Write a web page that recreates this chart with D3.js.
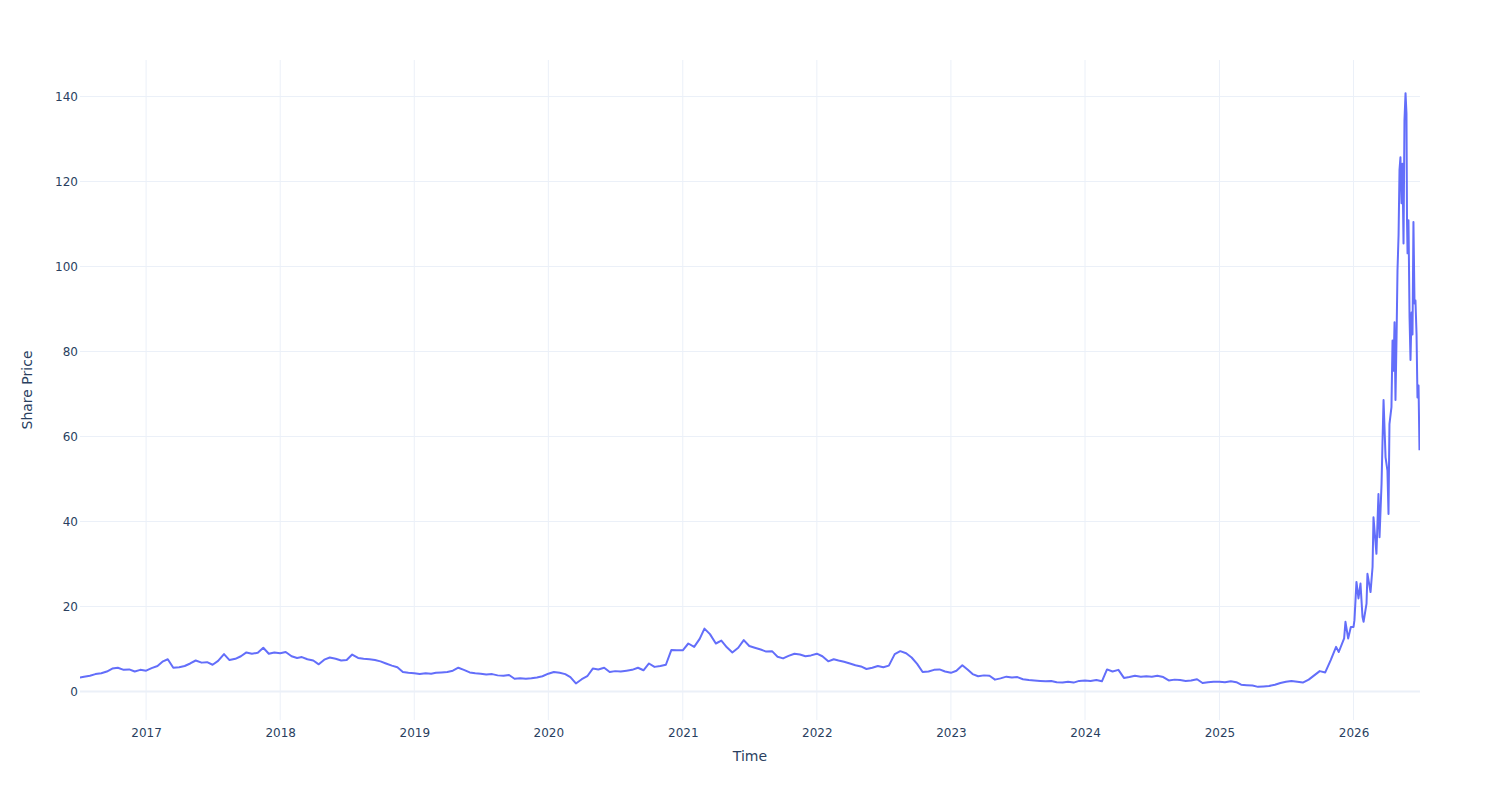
<!DOCTYPE html>
<html>
<head>
<meta charset="utf-8">
<script src="https://cdn.jsdelivr.net/npm/d3@7"></script>
<style>
  body { margin: 0; background: #fff; }
  svg text { font-family: "DejaVu Sans", verdana, arial, sans-serif; fill: #2a3f5f; }
</style>
</head>
<body>
<script>
// share price read twice a month (1st and 16th), one array per year
var price2016 = [3.2, 3.5, 3.7, 4.1, 4.3, 4.7, 5.4, 5.6, 5.1, 5.2, 4.7, 5.1]; // from July
var price2017 = [4.9, 5.5, 6.0, 7.1, 7.6, 5.6, 5.7, 6.0, 6.6, 7.3, 6.8, 6.9,
                 6.3, 7.2, 8.8, 7.4, 7.7, 8.3, 9.2, 8.9, 9.1, 10.3, 8.9, 9.2];
var price2018 = [9.0, 9.3, 8.3, 7.9, 8.1, 7.6, 7.3, 6.4, 7.5, 8.0, 7.7, 7.3,
                 7.4, 8.7, 7.9, 7.7, 7.6, 7.4, 7.1, 6.6, 6.1, 5.7, 4.6, 4.4];
var price2019 = [4.3, 4.1, 4.3, 4.2, 4.4, 4.5, 4.6, 4.9, 5.6, 5.1, 4.5, 4.3,
                 4.2, 4.0, 4.1, 3.8, 3.7, 3.9, 3.0, 3.1, 3.0, 3.1, 3.3, 3.6];
var price2020 = [4.2, 4.6, 4.4, 4.1, 3.4, 1.9, 2.9, 3.6, 5.4, 5.2, 5.6, 4.6,
                 4.8, 4.7, 4.9, 5.1, 5.6, 5.0, 6.6, 5.8, 6.0, 6.3, 9.8, 9.7];
var price2021 = [9.7, 11.3, 10.5, 12.4, 14.8, 13.5, 11.3, 12.0, 10.4, 9.2, 10.3, 12.1,
                 10.7, 10.3, 9.9, 9.4, 9.5, 8.2, 7.8, 8.4, 8.9, 8.7, 8.3, 8.5];
var price2022 = [8.9, 8.3, 7.1, 7.6, 7.3, 7.0, 6.6, 6.2, 5.9, 5.3, 5.6, 6.0,
                 5.7, 6.1, 8.8, 9.5, 9.0, 8.0, 6.5, 4.6, 4.7, 5.1, 5.2, 4.7];
var price2023 = [4.4, 4.9, 6.2, 5.1, 4.1, 3.6, 3.8, 3.7, 2.8, 3.1, 3.5, 3.3,
                 3.4, 2.9, 2.7, 2.6, 2.5, 2.4, 2.5, 2.2, 2.1, 2.3, 2.1, 2.5];
var price2024 = [2.6, 2.5, 2.7, 2.4, 5.2, 4.7, 5.1, 3.2, 3.4, 3.7, 3.5, 3.6,
                 3.5, 3.7, 3.4, 2.6, 2.8, 2.7, 2.5, 2.6, 2.9, 2.0, 2.2, 2.3];
var price2025 = [2.3, 2.2, 2.4, 2.2, 1.6, 1.5, 1.4, 1.1, 1.2, 1.3, 1.6, 2.0,
                 2.3, 2.5, 2.3, 2.1, 2.8, 3.8, 4.8, 4.5]; // to mid-October

// the rally from late 2025, read at finer time steps (decimal years)
var rallyYears = [
  2025.83, 2025.87, 2025.89, 2025.93, 2025.94, 2025.96, 2025.98, 2026.000, 2026.007, 2026.022, 2026.037,
  2026.052, 2026.067, 2026.075, 2026.097, 2026.104, 2026.127, 2026.142, 2026.149, 2026.171, 2026.186,
  2026.194, 2026.209, 2026.216, 2026.224, 2026.239, 2026.253, 2026.261, 2026.268, 2026.283, 2026.291,
  2026.298, 2026.306, 2026.313, 2026.321, 2026.328, 2026.336, 2026.343, 2026.350, 2026.358, 2026.365,
  2026.373, 2026.380, 2026.388, 2026.395, 2026.399, 2026.403, 2026.410, 2026.418, 2026.425, 2026.433,
  2026.440, 2026.447, 2026.455, 2026.462, 2026.470, 2026.477, 2026.485, 2026.492
];
var rallyPrices = [
  7.4, 10.5, 9.3, 12.5, 16.4, 12.5, 15.2, 15.2, 16.8, 25.8, 21.9,
  25.4, 17.6, 16.4, 20.7, 27.7, 23.4, 29.3, 41.0, 32.4, 46.5,
  36.3, 48.8, 58.4, 68.6, 55.1, 52.0, 41.8, 62.9, 66.9, 82.6,
  75.5, 86.9, 68.6, 83.4, 99.0, 107.4, 122.7, 125.7, 114.9, 124.2,
  105.4, 134.4, 140.8, 136.0, 110.9, 103.1, 110.9, 88.0, 78.0, 89.2,
  84.0, 110.5, 91.3, 92.0, 84.2, 69.2, 72.0, 56.8
];

var yTicks = [0, 20, 40, 60, 80, 100, 120, 140];
var xTickYears = [2017, 2018, 2019, 2020, 2021, 2022, 2023, 2024, 2025, 2026];
var xTitle = "Time", yTitle = "Share Price";

// decimal year -> Date
function toDate(y) {
  var yr = Math.floor(y);
  var start = new Date(yr, 0, 1), end = new Date(yr + 1, 0, 1);
  return new Date(start.getTime() + (y - yr) * (end - start));
}

//twice-monthly readings -> {date, price}
function halfMonthly(year, firstSlot, prices) {
  return prices.map(function(p, i) {
    var k = firstSlot + i;
    return {date: new Date(year, Math.floor(k / 2), k % 2 ? 16 : 1), price: p};
  });
}

var data = [].concat(
  halfMonthly(2016, 12, price2016),
  halfMonthly(2017, 0, price2017),
  halfMonthly(2018, 0, price2018),
  halfMonthly(2019, 0, price2019),
  halfMonthly(2020, 0, price2020),
  halfMonthly(2021, 0, price2021),
  halfMonthly(2022, 0, price2022),
  halfMonthly(2023, 0, price2023),
  halfMonthly(2024, 0, price2024),
  halfMonthly(2025, 0, price2025),
  rallyYears.map(function(t, i) { return {date: toDate(t), price: rallyPrices[i]}; })
);

var width = 1500, height = 800;
var margin = {top: 60, right: 80, bottom: 80, left: 80};

var svg = d3.select("body").append("svg")
  .attr("width", width)
  .attr("height", height);

var x = d3.scaleTime()
  .domain([new Date(2016, 6, 5), new Date(2026, 6, 1)])
  .range([margin.left, width - margin.right]);

var y = d3.scaleLinear()
  .domain([-6.7, 148.6])
  .range([height - margin.bottom, margin.top]);

//grid lines
svg.append("g").selectAll("line")
  .data(xTickYears)
  .enter().append("line")
  .attr("x1", function(d) { return x(new Date(d, 0, 1)); })
  .attr("x2", function(d) { return x(new Date(d, 0, 1)); })
  .attr("y1", margin.top)
  .attr("y2", height - margin.bottom)
  .attr("stroke", "#EBF0F8")
  .attr("stroke-width", 1);

svg.append("g").selectAll("line")
  .data(yTicks)
  .enter().append("line")
  .attr("x1", margin.left)
  .attr("x2", width - margin.right)
  .attr("y1", function(d) { return y(d); })
  .attr("y2", function(d) { return y(d); })
  .attr("stroke", "#EBF0F8")
  .attr("stroke-width", function(d) { return d === 0 ? 2 : 1; });

//axes
var xAxis = svg.append("g")
  .attr("transform", "translate(0," + (height - margin.bottom) + ")")
  .call(d3.axisBottom(x)
    .tickValues(xTickYears.map(function(d) { return new Date(d, 0, 1); }))
    .tickFormat(d3.timeFormat("%Y"))
    .tickSize(0)
    .tickPadding(8));
xAxis.select(".domain").remove();
xAxis.selectAll("text").style("font-size", "12px").attr("fill", "#2a3f5f");

var yAxis = svg.append("g")
  .attr("transform", "translate(" + margin.left + ",0)")
  .call(d3.axisLeft(y)
    .tickValues(yTicks)
    .tickSize(0)
    .tickPadding(2));
yAxis.select(".domain").remove();
yAxis.selectAll("text").style("font-size", "12px").attr("fill", "#2a3f5f");

//axis titles
svg.append("text")
  .attr("x", (margin.left + width - margin.right) / 2)
  .attr("y", 761)
  .attr("text-anchor", "middle")
  .style("font-size", "14px")
  .text(xTitle);

svg.append("text")
  .attr("transform", "translate(32," + ((margin.top + height - margin.bottom) / 2) + ") rotate(-90)")
  .attr("text-anchor", "middle")
  .style("font-size", "14px")
  .text(yTitle);

//clip to plot area
svg.append("clipPath").attr("id", "plot-clip")
  .append("rect")
  .attr("x", margin.left)
  .attr("y", margin.top)
  .attr("width", width - margin.left - margin.right)
  .attr("height", height - margin.top - margin.bottom);

//price line
var line = d3.line()
  .x(function(d) { return x(d.date); })
  .y(function(d) { return y(d.price); });

svg.append("path")
  .datum(data)
  .attr("clip-path", "url(#plot-clip)")
  .attr("fill", "none")
  .attr("stroke", "#636efa")
  .attr("stroke-width", 2)
  .attr("stroke-linejoin", "round")
  .attr("d", line);
</script>
</body>
</html>
